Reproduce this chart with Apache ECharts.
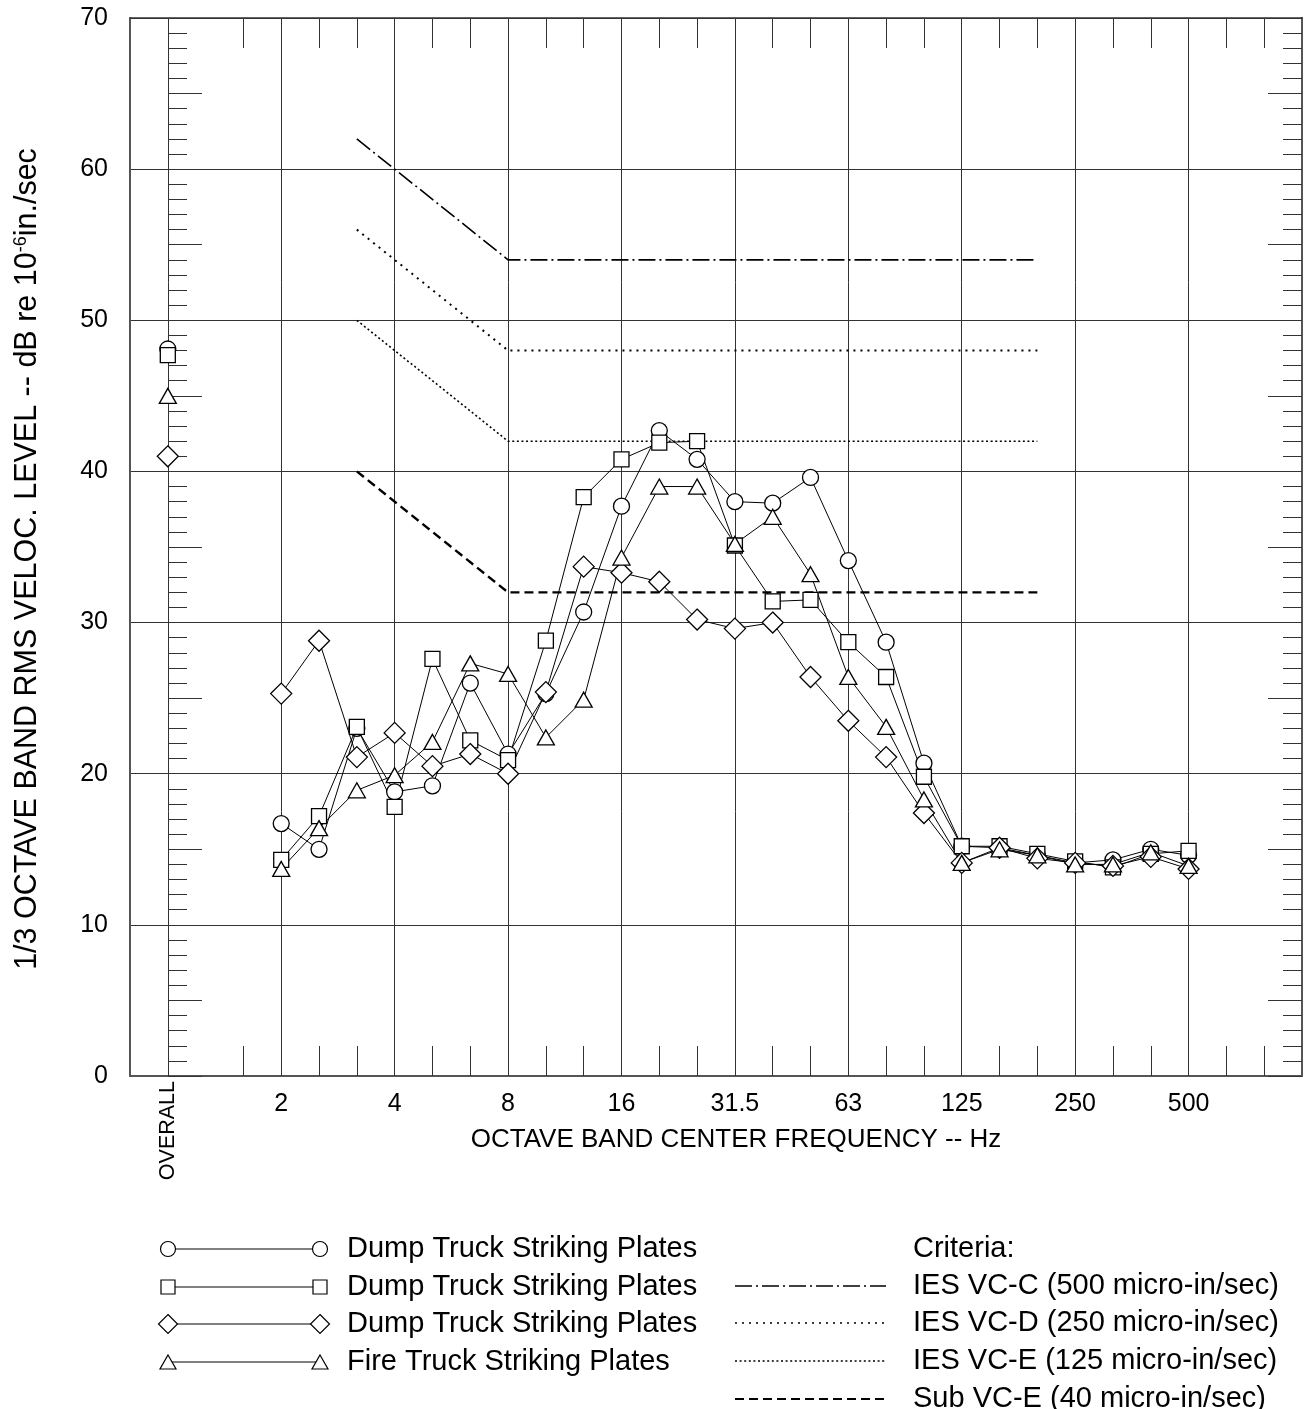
<!DOCTYPE html>
<html><head><meta charset="utf-8">
<script src="https://cdn.jsdelivr.net/npm/echarts@6/dist/echarts.min.js"></script>
<style>html,body{margin:0;padding:0;background:#fff}#c{width:1311px;height:1409px}</style>
</head><body><div id="c"></div>
<script>
// x positions: one-third-octave band centres (0.8 Hz edge ... 1000 Hz edge); "OVERALL" sits at 1 Hz slot
const categories = ['0.8','OVERALL','1.25','1.6','2','2.5','3.15','4','5','6.3','8','10','12.5','16','20','25','31.5','40','50','63','80','100','125','160','200','250','315','400','500','630','800','1000'];
const octaveLabels = ['2','4','8','16','31.5','63','125','250','500'];
const bandCategories = ['2','2.5','3.15','4','5','6.3','8','10','12.5','16','20','25','31.5','40','50','63','80','100','125','160','200','250','315','400','500'];

const seriesNames = ['Dump Truck Striking Plates','Dump Truck Striking Plates','Dump Truck Striking Plates','Fire Truck Striking Plates'];
const overallValues = [48.1, 47.7, 41.0, 45.0];
const dumpTruckA = [16.7,15.0,23.0,18.8,19.2,26.0,21.3,25.3,30.7,37.7,42.7,40.8,38.0,37.9,39.6,34.1,28.7,20.7,15.2,15.1,14.6,14.1,14.3,15.0,14.6];
const dumpTruckB = [14.3,17.2,23.1,17.8,27.6,22.2,20.9,28.8,38.3,40.8,41.9,42.0,35.1,31.4,31.5,28.7,26.4,19.8,15.2,15.2,14.7,14.2,13.8,14.7,14.9];
const dumpTruckC = [25.3,28.8,21.1,22.7,20.5,21.3,20.0,25.4,33.7,33.3,32.7,30.2,29.6,30.0,26.4,23.5,21.1,17.4,14.1,15.1,14.4,14.1,13.9,14.5,13.7];
const fireTruck  = [13.7,16.4,18.9,19.9,22.1,27.3,26.6,22.4,24.9,34.3,39.0,39.0,35.2,37.0,33.2,26.4,23.1,18.3,14.1,15.0,14.6,14.0,14.0,14.8,13.9];

const criteriaNames = ['IES VC-C (500 micro-in/sec)','IES VC-D (250 micro-in/sec)','IES VC-E (125 micro-in/sec)','Sub VC-E (40 micro-in/sec)'];
const criteriaCategories = ['3.15','8','200'];
const criteriaVCC = [62, 54, 54];
const criteriaVCD = [56, 48, 48];
const criteriaVCE = [50, 42, 42];
const criteriaSubVCE = [40, 32, 32];

const FONT = "'Liberation Sans', Arial, Helvetica, sans-serif";

function buildSeriesData(overall, bands) {
  const arr = categories.map(() => null);
  arr[categories.indexOf('OVERALL')] = overall;
  bandCategories.forEach((c, i) => { arr[categories.indexOf(c)] = bands[i]; });
  return arr;
}
function buildCriteria(vals) { return criteriaCategories.map((c, i) => [c, vals[i]]); }

const gridIdx = new Set([1].concat(octaveLabels.map(l => categories.indexOf(l))));
const noTick = new Set([0, 2, categories.length - 1]);
const tickFn = (i) => !noTick.has(i);
const labelFn = (i) => octaveLabels.indexOf(categories[i]) >= 0;
const gridFn = (i) => gridIdx.has(i);

const symbols = ['circle','rect','diamond','triangle'];
const symbolSizes = [16, 15, 21, [17, 15]];
const bandData = [dumpTruckA, dumpTruckB, dumpTruckC, fireTruck];

const dataSeries = bandData.map((b, k) => ({
  type: 'line', name: seriesNames[k], xAxisIndex: 0, yAxisIndex: 0,
  data: buildSeriesData(overallValues[k], b),
  symbol: symbols[k], symbolSize: symbolSizes[k], showSymbol: true, showAllSymbol: true,
  connectNulls: false,
  lineStyle: { color: '#000', width: 1 },
  itemStyle: { color: '#fff', borderColor: '#000', borderWidth: 1.3 },
  z: 5, animation: false
}));

const critDash = [[17,4,2,4],[2,5],[2,2.6],[9,5]];
const critWidth = [1.6, 2, 1.6, 2.4];
const critData = [criteriaVCC, criteriaVCD, criteriaVCE, criteriaSubVCE];
const critSeries = critData.map((v, k) => ({
  type: 'line', name: criteriaNames[k], xAxisIndex: 0, yAxisIndex: 0,
  data: buildCriteria(v), symbol: 'none',
  lineStyle: { color: '#000', width: critWidth[k], type: critDash[k] },
  z: 4, animation: false
}));

// legend drawn as graphic elements
const legendG = [];
const rowY = [1249, 1287, 1324, 1362];
function markerShape(kind, cx, cy) {
  const st = { fill: '#fff', stroke: '#000', lineWidth: 1.2 };
  if (kind === 'circle') return { type: 'circle', shape: { cx, cy, r: 7.5 }, style: st, z: 10 };
  if (kind === 'rect') return { type: 'rect', shape: { x: cx - 7, y: cy - 7, width: 14, height: 14 }, style: st, z: 10 };
  if (kind === 'diamond') return { type: 'polygon', shape: { points: [[cx, cy - 9.5], [cx + 9.5, cy], [cx, cy + 9.5], [cx - 9.5, cy]] }, style: st, z: 10 };
  return { type: 'polygon', shape: { points: [[cx, cy - 7], [cx + 8, cy + 7], [cx - 8, cy + 7]] }, style: st, z: 10 };
}
for (let k = 0; k < 4; k++) {
  const y = rowY[k];
  legendG.push({ type: 'line', shape: { x1: 170, y1: y, x2: 318, y2: y }, style: { stroke: '#000', lineWidth: 1 }, z: 9 });
  legendG.push(markerShape(symbols[k], 168, y));
  legendG.push(markerShape(symbols[k], 320, y));
  legendG.push({ type: 'text', x: 347, y: y, style: { text: seriesNames[k], font: '29px ' + FONT, fill: '#000', verticalAlign: 'middle' }, z: 10 });
}
const critRowY = [1286, 1323, 1361, 1399];
legendG.push({ type: 'text', x: 913, y: 1249, style: { text: 'Criteria:', font: '29px ' + FONT, fill: '#000', verticalAlign: 'middle' }, z: 10 });
for (let k = 0; k < 4; k++) {
  const y = critRowY[k];
  legendG.push({ type: 'line', shape: { x1: 735, y1: y, x2: 886, y2: y }, style: { stroke: '#000', lineWidth: critWidth[k] * 0.8, lineDash: critDash[k] }, z: 9 });
  legendG.push({ type: 'text', x: 913, y: y, style: { text: criteriaNames[k], font: '29px ' + FONT, fill: '#000', verticalAlign: 'middle' }, z: 10 });
}

function tickAxis(position, offset, interval, length, showLine) {
  return {
    type: 'value', min: 0, max: 70, interval: interval, position: position, offset: offset,
    axisLine: { show: showLine, onZero: false, lineStyle: { color: '#555', width: 2 } },
    axisTick: { show: true, inside: true, length: length, lineStyle: { color: '#333', width: 1 } },
    axisLabel: { show: false }, splitLine: { show: false }
  };
}

const chart = echarts.init(document.getElementById('c'), null, { renderer: 'canvas' });
chart.setOption({
  backgroundColor: '#fff',
  animation: false,
  textStyle: { fontFamily: FONT },
  grid: { left: 130, right: 9, top: 18, bottom: 333 },
  xAxis: [
    {
      type: 'category', data: categories, boundaryGap: false, position: 'bottom',
      axisLine: { show: true, onZero: false, lineStyle: { color: '#555', width: 2 } },
      axisTick: { show: true, inside: true, length: 30, interval: tickFn, lineStyle: { color: '#333', width: 1 } },
      axisLabel: { show: true, interval: labelFn, fontSize: 25, color: '#000', margin: 16, fontFamily: FONT },
      splitLine: { show: true, interval: gridFn, lineStyle: { color: '#333', width: 1 } },
      name: 'OCTAVE BAND CENTER FREQUENCY -- Hz', nameLocation: 'middle', nameGap: 51,
      nameTextStyle: { fontSize: 26, color: '#000', fontFamily: FONT, padding: [0, 0, 0, 40] }
    },
    {
      type: 'category', data: categories, boundaryGap: false, position: 'top',
      axisLine: { show: true, onZero: false, lineStyle: { color: '#333', width: 1.5 } },
      axisTick: { show: true, inside: true, length: 30, interval: tickFn, lineStyle: { color: '#333', width: 1 } },
      axisLabel: { show: false }, splitLine: { show: false }
    },
    {
      type: 'category', data: categories, boundaryGap: false, position: 'bottom',
      axisLine: { show: false, onZero: false }, axisTick: { show: false },
      axisLabel: { show: true, interval: (i) => categories[i] === 'OVERALL', rotate: 90, fontSize: 21.5, color: '#000', margin: 5, fontFamily: FONT },
      splitLine: { show: false }
    }
  ],
  yAxis: [
    {
      type: 'value', min: 0, max: 70, interval: 10, position: 'left',
      axisLine: { show: true, onZero: false, lineStyle: { color: '#555', width: 2 } },
      axisTick: { show: false },
      axisLabel: { fontSize: 25, color: '#000', margin: 22, fontFamily: FONT },
      splitLine: { show: true, lineStyle: { color: '#333', width: 1 } },
      name: '1/3 OCTAVE BAND RMS VELOC. LEVEL -- dB re 10{sup|-6}in./sec',
      nameLocation: 'middle', nameGap: 87, nameRotate: 90,
      nameTextStyle: { fontSize: 30.5, color: '#000', fontFamily: FONT, padding: [0, 24, 0, 0],
        rich: { sup: { fontSize: 18, verticalAlign: 'top', color: '#000', fontFamily: FONT } } }
    },
    tickAxis('left', -38, 1, 19, false),
    tickAxis('left', -38, 5, 34, false),
    tickAxis('right', 0, 1, 19, true),
    tickAxis('right', 0, 5, 34, true)
  ],
  series: critSeries.concat(dataSeries),
  graphic: { elements: legendG }
});
</script></body></html>
